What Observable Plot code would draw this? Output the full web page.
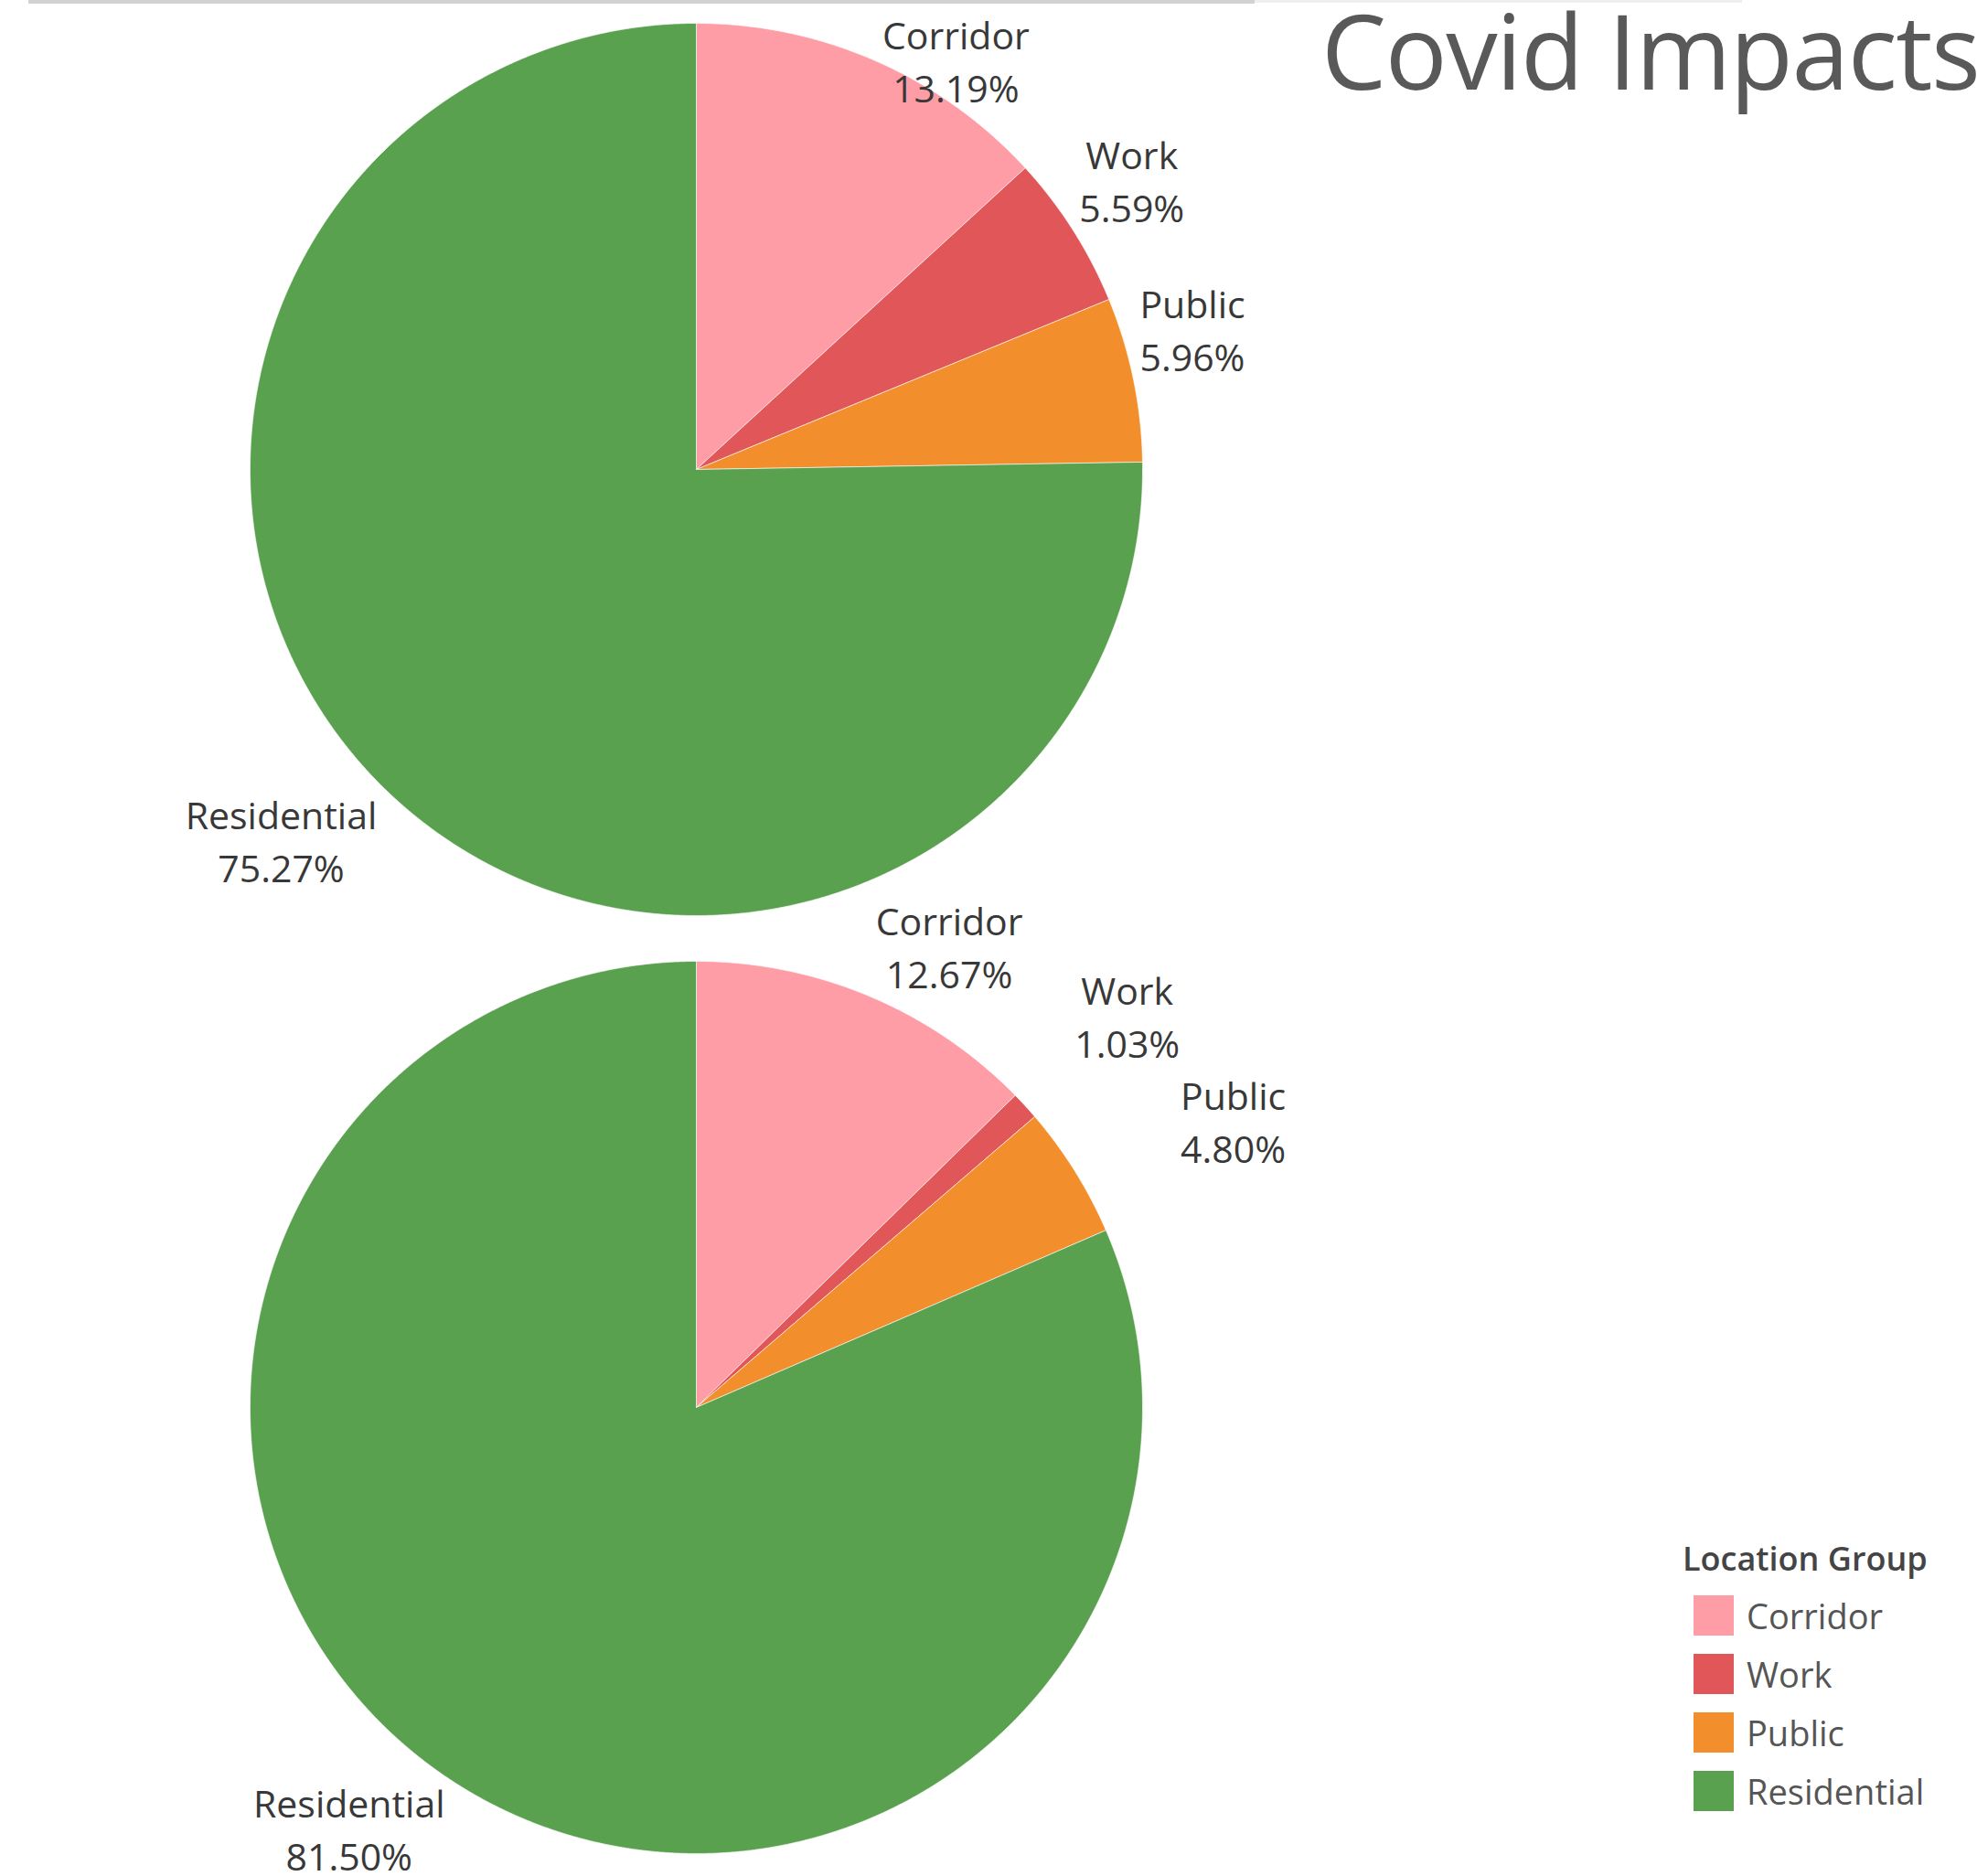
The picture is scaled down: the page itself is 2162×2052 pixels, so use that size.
<!DOCTYPE html>
<html>
<head>
<meta charset="utf-8">
<script src="https://cdn.jsdelivr.net/npm/d3@7"></script>
<script src="https://cdn.jsdelivr.net/npm/@observablehq/plot@0.6"></script>
<style>
  html, body { margin: 0; padding: 0; background: #fff; }
  #wrap { position: relative; width: 2162px; height: 2052px; overflow: hidden; background: #fff; }
  #chart svg { display: block; }
  #title { position: absolute; left: 1445px; top: -2px; font-family: "Open Sans"; font-size: 113px;
           letter-spacing: -1.5px; color: #595959; white-space: nowrap; line-height: 1; }
  #legend { position: absolute; left: 1840px; top: 1683px; width: 315px; font-family: "Open Sans"; color: #333; }
  #legend .ttl { font-size: 36px; font-weight: 600; line-height: 44px; color: #444; white-space: nowrap; }
  .leg-swatches { margin: 18px 0 0 12px !important; font-family: "Open Sans" !important; font-size: 38px !important; color: #555; }
  .leg-swatch { padding-bottom: 20px !important; }
  .leg-swatch > svg { margin-right: 14px !important; }
  .leg-swatch-label { line-height: 44px; overflow: visible !important; text-overflow: clip !important; }
  .rule1 { position: absolute; top: 0; left: 31px; width: 1341px; height: 4px; background: #d2d2d2; }
  .rule2 { position: absolute; top: 0; left: 1372px; width: 533px; height: 3px; background: #eeeeee; }
</style>
</head>
<body>
<div id="wrap">
  <div id="chart"></div>
  <div class="rule1"></div>
  <div class="rule2"></div>
  <div id="title">Covid Impacts</div>
  <div id="legend"><div class="ttl">Location Group</div></div>
</div>
<script>
// ---- data ----
const groups = ["Corridor", "Work", "Public", "Residential"];
const colors = ["#FF9DA7", "#E15759", "#F28E2B", "#59A14F"];
const periods = ["Period A", "Period B"];
const sharesA = [13.19, 5.59, 5.96, 75.27];
const sharesB = [12.67, 1.03, 4.80, 81.50];
const shares = [sharesA, sharesB];

// ---- layout constants ----
const W = 2162, H = 2052;
const CX = 761;            // pie centre, px from left
const R = 488;             // pie radius, px
const HALF = H / 4;        // half of one facet's height
const FONT = 41, LINE = 58, GAP = 7, MARGIN = 15, SIDE = 1.7, BOXH = LINE + FONT;

const ctx = document.createElement("canvas").getContext("2d");
ctx.font = `${FONT}px "Open Sans"`;
const measure = s => ctx.measureText(s).width;

const slicePts = [];
const labelRows = [];
periods.forEach((p, pi) => {
  const arcs = d3.pie().sort(null).value(d => d)(shares[pi]);
  const placed = [];
  arcs.forEach((a, i) => {
    const key = p + "|" + groups[i];
    slicePts.push({period: p, key, group: groups[i], x: 0, y: 0});
    const n = Math.max(2, Math.ceil((a.endAngle - a.startAngle) / (Math.PI / 720)));
    for (let k = 0; k <= n; ++k) {
      const t = a.startAngle + (a.endAngle - a.startAngle) * k / n;
      slicePts.push({period: p, key, group: groups[i], x: R * Math.sin(t), y: R * Math.cos(t)});
    }
    slicePts.push({period: p, key, group: groups[i], x: 0, y: 0});

    // label box: corner nearest the centre touches the arc at the mid angle
    const m = (a.startAngle + a.endAngle) / 2;
    const sx = Math.sin(m), cy = Math.cos(m);
    const px = R * sx, py = R * cy;
    const lines = [groups[i], a.data.toFixed(2) + "%"];
    const w = Math.max(...lines.map(measure));
    const lab = {period: p, sx, cy, w, text: lines.join("\n")};
    lab.left = sx >= 0 ? px + GAP : px - GAP - w;
    lab.top = cy >= 0 ? py + GAP + BOXH : py - GAP;
    if (pi === 0) lab.top = Math.min(lab.top, HALF - 14);
    if (pi === periods.length - 1) lab.top = Math.max(lab.top, -HALF + 5 + BOXH);
    // collision: earlier label moves out along its ray, new one sideways
    const overlaps = (u, v) => u.left < v.left + v.w + MARGIN && u.left + u.w + MARGIN > v.left &&
      u.top > v.top - BOXH - MARGIN && u.top - BOXH - MARGIN < v.top;
    for (let iter = 0; iter < 400; ++iter) {
      const hit = placed.find(b => overlaps(lab, b));
      if (!hit) break;
      hit.left += hit.sx; hit.top += hit.cy;
      lab.left += lab.sx >= 0 ? SIDE : -SIDE;
    }
    placed.push(lab);
  });
  for (const b of placed) {
    labelRows.push({period: b.period, x: b.left + b.w / 2, y: b.top - BOXH / 2, text: b.text});
  }
});

const chart = Plot.plot({
  width: W,
  height: H,
  margin: 0,
  x: {domain: [-CX, W - CX], axis: null},
  y: {domain: [-HALF, HALF], axis: null},
  fy: {domain: periods, axis: null, padding: 0},
  color: {domain: groups, range: colors},
  style: {fontFamily: "Open Sans", background: "white"},
  marks: [
    Plot.line(slicePts, {
      x: "x", y: "y", z: "key", fy: "period", fill: "group",
      stroke: "white", strokeWidth: 1, strokeOpacity: 0.6, curve: "linear"
    }),
    Plot.text(labelRows, {
      x: "x", y: "y", fy: "period", text: "text",
      fontSize: FONT, lineHeight: LINE / FONT, fill: "#383838",
      textAnchor: "middle", lineAnchor: "middle"
    })
  ]
});
document.getElementById("chart").appendChild(chart);

const legend = chart.legend("color", {columns: 1, swatchSize: 44, className: "leg"});
document.getElementById("legend").appendChild(legend);
</script>
</body>
</html>
